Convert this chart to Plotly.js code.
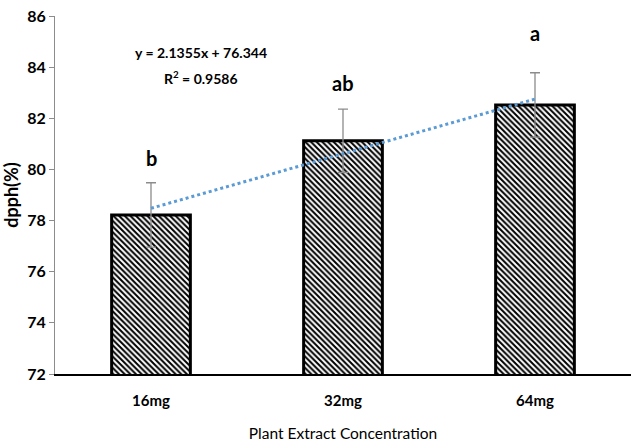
<!DOCTYPE html>
<html>
<head>
<meta charset="utf-8">
<script src="https://cdn.plot.ly/plotly-3.0.1.min.js"></script>
<style>html,body{margin:0;padding:0;background:#fff;}#chart{width:631px;height:448px;}</style>
</head>
<body>
<div id="chart"></div>
<script>
const categories = ["16mg", "32mg", "64mg"];
const dpph = [78.22, 81.12, 82.52];
const errors = [1.26, 1.24, 1.26];
const trendValues = [78.48, 80.61, 82.75];
const letters = ["b", "ab", "a"];
const letterY = [80.45, 83.38, 85.32];
const yTicks = [72, 74, 76, 78, 80, 82, 84, 86];

const FONT = 'Lato, "Open Sans", Arial, sans-serif';

const bars = {
  type: 'bar',
  x: categories,
  y: dpph,
  base: 0,
  marker: {
    color: 'white',
    line: {color: 'black', width: 3},
    pattern: {shape: '\\', size: 4, solidity: 0.5, fgcolor: 'black', bgcolor: 'white'}
  },
  error_y: {type: 'data', array: errors, visible: true, color: '#8c8c8c', thickness: 1.3, width: 5},
  hoverinfo: 'none',
  showlegend: false
};

const trend = {
  type: 'scatter',
  mode: 'lines',
  x: categories,
  y: trendValues,
  line: {color: '#5B9BD5', width: 3, dash: 'dot'},
  hoverinfo: 'none',
  showlegend: false
};

const annotations = letters.map((t, i) => ({
  x: categories[i], y: letterY[i], xref: 'x', yref: 'y',
  xanchor: 'center', yanchor: 'middle',
  text: '<b>' + t + '</b>', showarrow: false,
  font: {family: FONT, size: 20, color: 'black'}
}));
annotations.push({
  xref: 'paper', yref: 'paper', x: 0.254, y: 0.897,
  xanchor: 'center', yanchor: 'middle',
  text: '<b>y = 2.1355x + 76.344</b>', showarrow: false,
  font: {family: FONT, size: 14, color: 'black'}
});
annotations.push({
  xref: 'paper', yref: 'paper', x: 0.254, y: 0.827,
  xanchor: 'center', yanchor: 'middle',
  text: '<b>R<sup>2</sup> = 0.9586</b>', showarrow: false,
  font: {family: FONT, size: 14, color: 'black'}
});

const layout = {
  width: 631, height: 448,
  margin: {l: 55, r: 0, t: 16, b: 74},
  paper_bgcolor: 'white', plot_bgcolor: 'white',
  bargap: 0.59,
  font: {family: FONT, color: 'black'},
  xaxis: {
    type: 'category',
    showline: true, linecolor: 'black', linewidth: 1.5,
    ticks: '', showgrid: false, zeroline: false,
    tickfont: {family: FONT, size: 15, color: 'black', weight: 'bold'},
    ticklabelstandoff: 12,
    title: {text: 'Plant Extract Concentration', font: {family: FONT, size: 15.5, color: 'black'}, standoff: 20}
  },
  yaxis: {
    range: [72, 86], tickvals: yTicks, ticktext: yTicks.map(v => '<b>' + v + '</b>'),
    showline: true, linecolor: '#8c8c8c', linewidth: 1,
    ticks: 'outside', ticklen: 5, tickcolor: '#8c8c8c',
    showgrid: false, zeroline: false,
    tickfont: {family: FONT, size: 16, color: 'black'},
    title: {text: '<b>dpph(%)</b>', font: {family: FONT, size: 18, color: 'black'}, standoff: 8}
  },
  annotations: annotations
};

Plotly.newPlot('chart', [bars, trend], layout, {displayModeBar: false, staticPlot: true});
</script>
</body>
</html>
